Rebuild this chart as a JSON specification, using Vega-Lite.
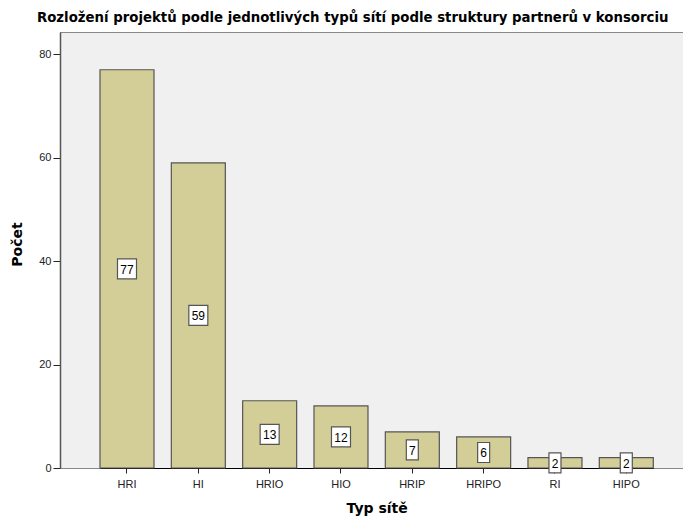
{
  "$schema": "https://vega.github.io/schema/vega-lite/v6.json",
  "autosize": {"type": "none"},
  "padding": {"left": 60, "top": 32, "right": 0, "bottom": 52},
  "width": 623,
  "height": 436,
  "background": "white",
  "title": {
    "text": "Rozložení projektů podle jednotlivých typů sítí podle struktury partnerů v konsorciu",
    "font": "DejaVu Sans",
    "fontSize": 13.3,
    "fontWeight": "bold",
    "color": "#000000",
    "anchor": "start",
    "frame": "group",
    "dx": -23,
    "offset": 8
  },
  "config": {
    "view": {"fill": "#F0F0F0", "stroke": "#888888", "strokeWidth": 1},
    "font": "Liberation Sans"
  },
  "data": {
    "values": [
      {"typ": "HRI", "pocet": 77},
      {"typ": "HI", "pocet": 59},
      {"typ": "HRIO", "pocet": 13},
      {"typ": "HIO", "pocet": 12},
      {"typ": "HRIP", "pocet": 7},
      {"typ": "HRIPO", "pocet": 6},
      {"typ": "RI", "pocet": 2},
      {"typ": "HIPO", "pocet": 2}
    ]
  },
  "encoding": {
    "x": {
      "field": "typ",
      "type": "nominal",
      "sort": null,
      "scale": {"range": [40, 593.3], "paddingInner": 0.243, "paddingOuter": 0},
      "axis": {
        "title": "Typ sítě",
        "titleFont": "DejaVu Sans",
        "titleFontSize": 14,
        "titleFontWeight": "bold",
        "titleColor": "#000000",
        "titlePadding": 12,
        "labelAngle": 0,
        "labelFontSize": 11,
        "labelColor": "#222222",
        "labelPadding": 5,
        "tickSize": 5,
        "tickColor": "#222222",
        "domainColor": "#000000",
        "domainWidth": 1
      }
    }
  },
  "layer": [
    {
      "mark": {"type": "bar", "fill": "#D3CE97", "stroke": "#555555", "strokeWidth": 1.2},
      "encoding": {
        "y": {
          "field": "pocet",
          "type": "quantitative",
          "scale": {"domain": [0, 84.3], "nice": false, "zero": true},
          "axis": {
            "title": "Počet",
            "titleFont": "DejaVu Sans",
            "titleFontSize": 14,
            "titleFontWeight": "bold",
            "titleColor": "#000000",
            "titlePadding": 14,
            "titleY": 212,
            "values": [0, 20, 40, 60, 80],
            "grid": false,
            "labelFontSize": 11,
            "labelColor": "#222222",
            "labelPadding": 2,
            "tickSize": 7,
            "tickColor": "#222222",
            "domainColor": "#555555",
            "domainWidth": 1.5
          }
        }
      }
    },
    {
      "transform": [{"calculate": "datum.pocet / 2", "as": "mid"}],
      "mark": {"type": "point", "filled": true, "fill": "white", "stroke": "#555555", "strokeWidth": 1.2, "opacity": 1, "size": 400},
      "encoding": {
        "y": {"field": "mid", "type": "quantitative"},
        "shape": {
          "condition": {"test": "datum.pocet >= 10", "value": "M-0.95,-1H0.95V1H-0.95Z"},
          "value": "M-0.6,-1H0.6V1H-0.6Z"
        }
      }
    },
    {
      "transform": [{"calculate": "datum.pocet / 2", "as": "mid"}],
      "mark": {"type": "text", "fontSize": 12, "color": "#000000", "baseline": "middle", "align": "center", "dy": 1},
      "encoding": {
        "y": {"field": "mid", "type": "quantitative"},
        "text": {"field": "pocet", "type": "quantitative"}
      }
    }
  ]
}
